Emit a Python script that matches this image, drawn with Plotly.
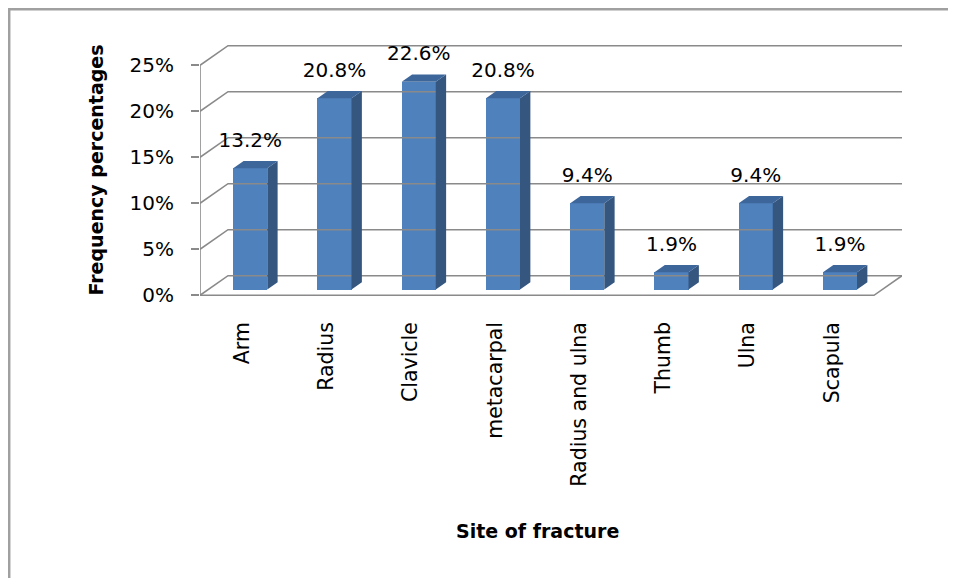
import plotly.graph_objects as go

# data
sites = ["Arm", "Radius", "Clavicle", "metacarpal", "Radius and ulna", "Thumb", "Ulna", "Scapula"]
freq_pct = [13.2, 20.8, 22.6, 20.8, 9.4, 1.9, 9.4, 1.9]
y_ticks = [0, 5, 10, 15, 20, 25]

FONT = "DejaVu Sans"

# fake 3d: oblique offset for the full depth of the floor (in data units)
DX = 28 / 84.25      # category units
DY = 19.6 / 9.2      # percent units
D_FRONT = 0.29       # depth where the bar front face stands
D_BAR = 0.37         # depth of one bar
BAR_W = 0.404

n = len(sites)
xs = list(range(n))
bar_base = DY * D_FRONT
bx = [i + DX * D_FRONT for i in xs]
ddx, ddy = DX * D_BAR, DY * D_BAR

fig = go.Figure()

# walls / floor gridlines
gx, gy = [], []
for t in y_ticks:
    gx += [-0.5, -0.5 + DX, n - 0.5 + DX, None]
    gy += [t, t + DY, t + DY, None]
gx += [-0.5, n - 0.5, n - 0.5 + DX, None, -0.5, -0.5]
gy += [0, 0, DY, None, 0, y_ticks[-1]]
fig.add_trace(go.Scatter(x=gx, y=gy, mode="lines", line=dict(color="#8a8a8a", width=1.6),
                         hoverinfo="skip", showlegend=False))

# side and top faces of the bars
sx, sy, tx, ty = [], [], [], []
for c, v in zip(bx, freq_pct):
    xl, xr = c - BAR_W / 2, c + BAR_W / 2
    top = bar_base + v
    sx += [xr, xr, xr + ddx, xr + ddx, xr, None]
    sy += [bar_base, top, top + ddy, bar_base + ddy, bar_base, None]
    tx += [xl, xr, xr + ddx, xl + ddx, xl, None]
    ty += [top, top, top + ddy, top + ddy, top, None]
fig.add_trace(go.Scatter(x=sx, y=sy, mode="lines", fill="toself", fillcolor="#34567f",
                         line=dict(width=0, color="#34567f"), hoverinfo="skip", showlegend=False))
fig.add_trace(go.Scatter(x=tx, y=ty, mode="lines", fill="toself", fillcolor="#3d669b",
                         line=dict(width=0, color="#3d669b"), hoverinfo="skip", showlegend=False))

# data labels
fig.add_trace(go.Scatter(
    x=bx, y=[v + bar_base + ddy + 2.07 for v in freq_pct],
    mode="text", text=[f"{v:.1f}%" for v in freq_pct], textposition="middle center",
    textfont=dict(family=FONT, size=20, color="black"), hoverinfo="skip", showlegend=False))

# front faces
fig.add_trace(go.Bar(x=bx, y=freq_pct, base=bar_base, width=BAR_W,
                     marker=dict(color="#4f81bd", line=dict(width=0)), showlegend=False))

# page has an 8px body margin, so the figure is laid out 8px smaller / shifted
W, H = 948, 570
PLOT_L, PLOT_R, PLOT_T, PLOT_B = 192, 894, 32, 292
px_x = 84.25
px_y = 9.2
y0_px = 287.3

fig.update_layout(
    width=W, height=H,
    margin=dict(l=PLOT_L, r=W - PLOT_R, t=PLOT_T, b=H - PLOT_B),
    paper_bgcolor="white", plot_bgcolor="white",
    font=dict(family=FONT, color="black"),
    bargap=0,
    xaxis=dict(
        range=[-0.5, -0.5 + (PLOT_R - PLOT_L) / px_x],
        tickmode="array", tickvals=xs, ticktext=sites, tickangle=-90,
        tickfont=dict(size=20.5), ticklabelstandoff=17,
        showgrid=False, zeroline=False, showline=False, ticks="",
    ),
    yaxis=dict(
        range=[-(PLOT_B - y0_px) / px_y, (y0_px - PLOT_T) / px_y],
        tickmode="array", tickvals=y_ticks, ticktext=[f"{t}%" for t in y_ticks],
        tickfont=dict(size=20), ticks="outside", ticklen=8, tickwidth=1.6, tickcolor="#8a8a8a",
        ticklabelstandoff=13,
        showgrid=False, zeroline=False, showline=False,
        title=dict(text="<b>Frequency percentages</b>", font=dict(size=19), standoff=20),
    ),
    annotations=[dict(
        text="<b>Site of fracture</b>", xref="x", yref="paper",
        x=(n - 1) / 2, y=(PLOT_B - 523) / (PLOT_B - PLOT_T),
        showarrow=False, font=dict(size=19), xanchor="center", yanchor="middle",
    )],
    shapes=[dict(
        type="rect", xref="paper", yref="paper",
        x0=(1.2 - PLOT_L) / (PLOT_R - PLOT_L), x1=(960 - PLOT_L) / (PLOT_R - PLOT_L),
        y0=(PLOT_B - 1.2) / (PLOT_B - PLOT_T), y1=(PLOT_B - 590) / (PLOT_B - PLOT_T),
        line=dict(color="#a0a0a0", width=2.5), layer="below",
    )],
)

fig.write_html("out.html")
